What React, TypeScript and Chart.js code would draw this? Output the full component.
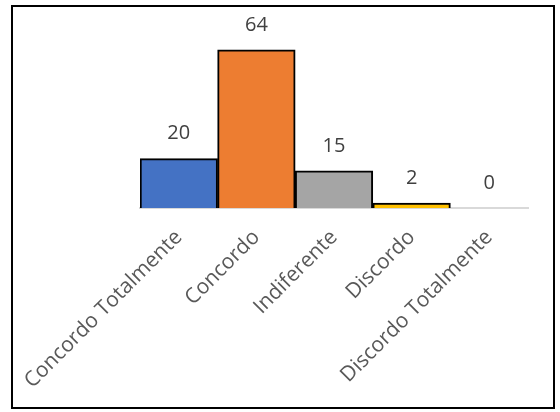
import React, { useEffect, useRef } from "react";
import { Chart, registerables } from "chart.js";

Chart.register(...registerables);

const categories = ["Concordo Totalmente", "Concordo", "Indiferente", "Discordo", "Discordo Totalmente"];
const values = [20, 64, 15, 2, 0];
const barColors = ["#4472C4", "#ED7D31", "#A5A5A5", "#FFC000", "#5B9BD5"];

const FONT = "'Open Sans', 'DejaVu Sans', sans-serif";

const frame = {
  id: "frame",
  beforeDraw(chart: any) {
    const ctx = chart.ctx;
    ctx.save();
    ctx.fillStyle = "#ffffff";
    ctx.fillRect(0, 0, chart.width, chart.height);
    ctx.strokeStyle = "#000000";
    ctx.lineWidth = 2;
    ctx.strokeRect(12, 6, 542, 402);
    ctx.restore();
  },
};

const valueLabels = {
  id: "valueLabels",
  afterDatasetsDraw(chart: any) {
    const ctx = chart.ctx;
    const meta = chart.getDatasetMeta(0);
    ctx.save();
    ctx.font = `20px ${FONT}`;
    ctx.fillStyle = "#404040";
    ctx.textAlign = "center";
    ctx.textBaseline = "middle";
    meta.data.forEach((bar: any, i: number) => {
      ctx.fillText(String(values[i]), bar.x, bar.y - 25);
    });
    ctx.restore();
  },
};

export default function App() {
  const ref = useRef<HTMLCanvasElement>(null);
  useEffect(() => {
    if (!ref.current) return;
    const chart = new Chart(ref.current, {
      type: "bar",
      data: {
        labels: categories,
        datasets: [
          {
            data: values,
            backgroundColor: barColors,
            borderColor: "#000000",
            borderWidth: 2,
            barPercentage: 1,
            categoryPercentage: 1,
          },
        ],
      },
      options: {
        animation: false,
        responsive: false,
        maintainAspectRatio: false,
        layout: { padding: { left: 140, right: 32, top: 35, bottom: 0 } },
        plugins: { legend: { display: false }, tooltip: { enabled: false } },
        scales: {
          x: {
            grid: { display: false, drawTicks: false },
            border: { display: true, color: "#D9D9D9", width: 2 },
            ticks: {
              minRotation: 45,
              maxRotation: 45,
              padding: 17,
              color: "#595959",
              font: { family: FONT, size: 21 },
            },
            afterFit: (scale: any) => {
              scale.height = 204;
              scale.paddingLeft = 0;
              scale.paddingRight = 0;
            },
          },
          y: {
            display: false,
            min: 0,
            max: 70,
          },
        },
      },
      plugins: [frame, valueLabels],
    });
    return () => chart.destroy();
  }, []);
  return (
    <div style={{ position: "fixed", left: 0, top: 0, width: 560, height: 412 }}>
      <canvas ref={ref} width={560} height={412} style={{ width: 560, height: 412 }} />
    </div>
  );
}
